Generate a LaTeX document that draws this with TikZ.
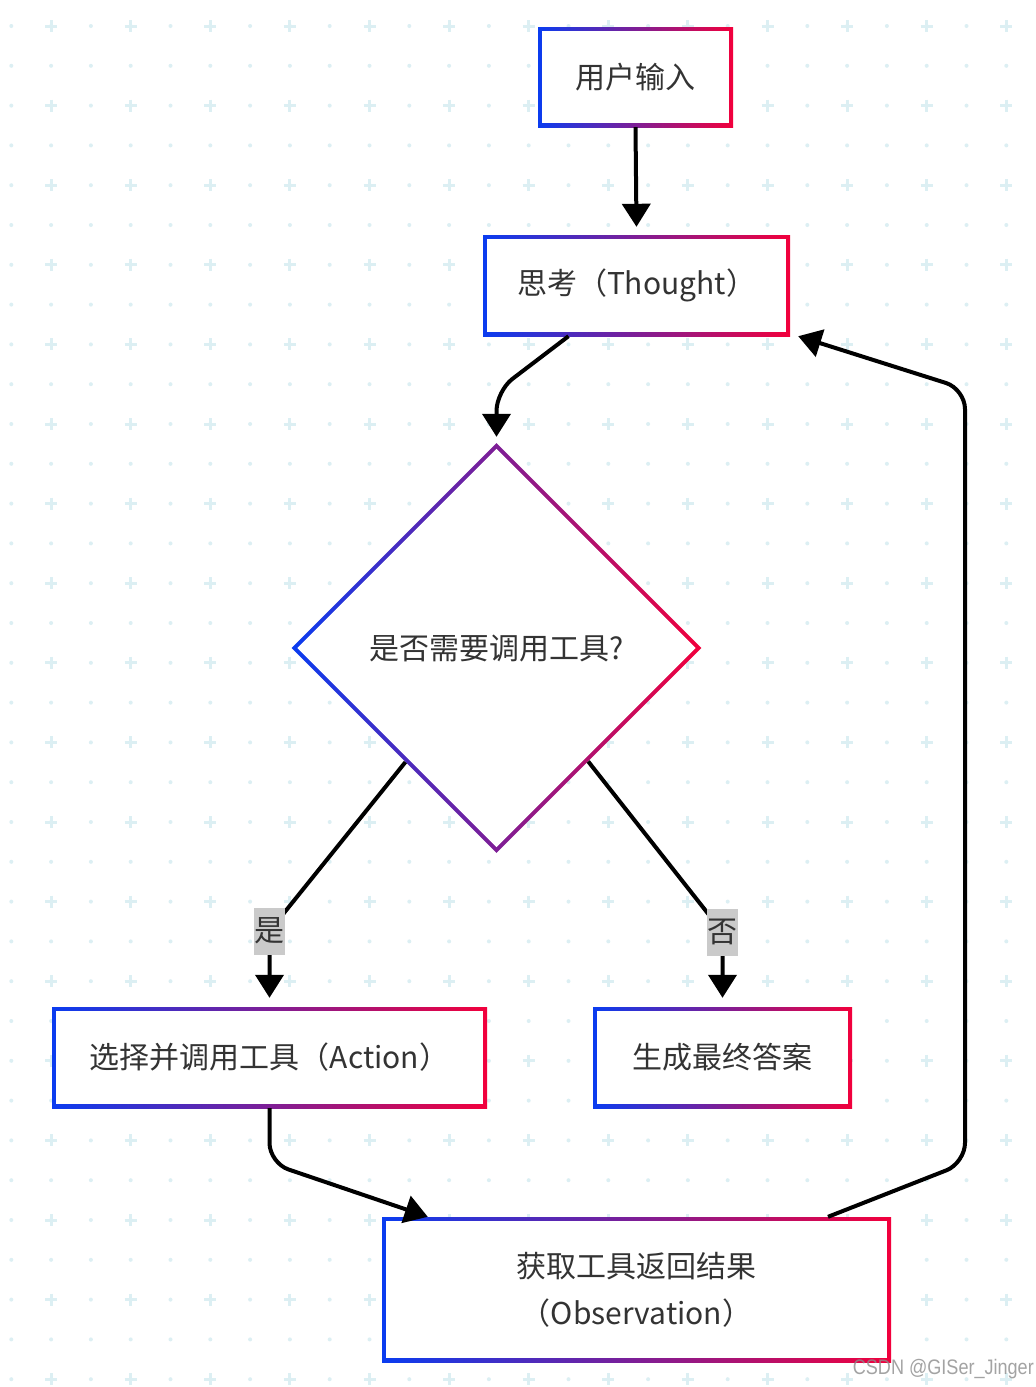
\documentclass[tikz,border=0pt]{standalone}
\usepackage{fontspec}
\usetikzlibrary{arrows.meta,shapes.geometric,calc}
\newfontfamily\cjk{Noto Sans CJK SC}
\newfontfamily\wmfont{Liberation Sans}

\definecolor{gblue}{HTML}{0A3CF0}
\definecolor{gred}{HTML}{F2003C}
\definecolor{dotcol}{HTML}{DCEFF3}
\definecolor{txtcol}{HTML}{333333}
\definecolor{lblgray}{HTML}{CACACA}

\tikzset{
  gradbox/.style={rectangle, inner sep=0pt, text=txtcol, align=center,
    font=\cjk\fontsize{30}{47}\selectfont,
    path picture={
      \shade[left color=gblue, right color=gred]
        (path picture bounding box.south west) rectangle (path picture bounding box.north east);
      \fill[white] ([shift={(4pt,4pt)}]path picture bounding box.south west)
        rectangle ([shift={(-4pt,-4pt)}]path picture bounding box.north east);
    }},
  graddiamond/.style={diamond, aspect=1, inner sep=0pt, text=txtcol,
    minimum width=410pt, minimum height=410pt,
    font=\cjk\fontsize{30}{40}\selectfont,
    path picture={
      \shade[left color=gblue, right color=gred]
        (path picture bounding box.south west) rectangle (path picture bounding box.north east);
      \fill[white] ([yshift=-5.7pt]path picture bounding box.north)
        -- ([xshift=-5.7pt]path picture bounding box.east)
        -- ([yshift=5.7pt]path picture bounding box.south)
        -- ([xshift=5.7pt]path picture bounding box.west) -- cycle;
    }},
  flowline/.style={line width=4pt, black, rounded corners=20pt,
    -{Triangle[length=23pt,width=28pt]}},
  choice/.style={fill=lblgray, inner sep=0pt, minimum width=31pt, minimum height=47pt,
    text=txtcol, font=\cjk\fontsize{30}{36}\selectfont},
}

\begin{document}
\begin{tikzpicture}[x=1pt, y=-1pt]
  % background grid
  \fill[white] (0,0) rectangle (1036,1387);
  \useasboundingbox (0,0) rectangle (1036,1387);
  \foreach \i in {0,...,25}
    \foreach \j in {0,...,34}
      \fill[dotcol] ({11.3+39.8*\i},{26+39.8*\j}) circle (2pt);
  \foreach \i in {0,...,12}
    \foreach \j in {0,...,17}
      \draw[dotcol, line width=3pt] ({51.1+79.6*\i-6},{26+79.6*\j}) -- ++(12,0)
        ({51.1+79.6*\i},{26+79.6*\j-6}) -- ++(0,12);

  % nodes
  \node[gradbox, minimum width=195pt, minimum height=100pt] (input) at (635.5,77) {用户输入};
  \node[gradbox, minimum width=307pt, minimum height=101pt] (thought) at (636.5,285.5) {思考（Thought）};
  \node[graddiamond] (dec) at (496.5,648) {是否需要调用工具?};
  \node[gradbox, minimum width=435pt, minimum height=101pt] (act) at (269.5,1057.5) {选择并调用工具（Action）};
  \node[gradbox, minimum width=259pt, minimum height=101pt] (ans) at (722.5,1057.5) {生成最终答案};
  \node[gradbox, minimum width=509pt, minimum height=145pt] (obs) at (636.5,1289.5) {获取工具返回结果\\（Observation）};

  % bends
  \coordinate (thbend) at (496.5,391);
  \coordinate (yesbend) at (269.5,931);
  \coordinate (nobend) at (722.5,932);
  \coordinate (actbend) at (269.5,1163);
  \coordinate (obsbendA) at (965,1163);
  \coordinate (obsbendB) at (965,389);

  % connectors
  \draw[flowline] (input.south) -- ([yshift=8pt]thought.north);
  \draw[flowline] ([xshift=-68pt]thought.south) -- (thbend) -- ([yshift=6pt]dec.north);
  \draw[flowline] ($(dec.west)!0.556!(dec.south)$) -- (yesbend) -- ([yshift=9pt]act.north);
  \draw[flowline] ($(dec.east)!0.553!(dec.south)$) -- (nobend) -- ([yshift=9pt]ans.north);
  \draw[flowline] (act.south) -- (actbend) -- ([xshift=46pt]obs.north west);
  \draw[flowline] ([xshift=191.5pt]obs.north) -- (obsbendA) -- (obsbendB) -- ([xshift=8pt]thought.south east);

  % labels
  \node[choice] (yes) at (yesbend) {是};
  \node[choice] (no) at (nobend) {否};

  \node[anchor=east, text=black!45, opacity=0.8, font=\wmfont\fontsize{21}{25}\selectfont,
    xscale=0.86, inner sep=0pt] (mark) at (1034,1369) {CSDN @GISer\_Jinger};
\end{tikzpicture}
\end{document}
